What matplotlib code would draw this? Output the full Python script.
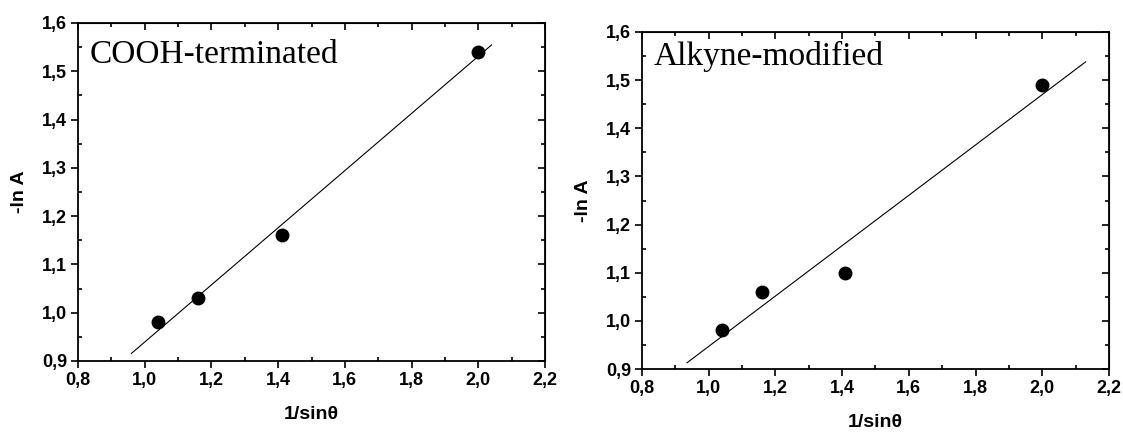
import numpy as np
import matplotlib
matplotlib.use("Agg")
import matplotlib.pyplot as plt
from matplotlib.ticker import MultipleLocator, FuncFormatter, NullFormatter

# данные
x_vals = [1.04, 1.16, 1.41, 2.00]
y_cooh = [0.98, 1.03, 1.16, 1.54]
y_alkyne = [0.98, 1.06, 1.10, 1.49]
fit_range_cooh = [0.96, 2.04]
fit_range_alkyne = [0.935, 2.13]
titles = ["COOH-terminated", "Alkyne-modified"]

plt.rcParams['font.family'] = ['Liberation Sans', 'DejaVu Sans']

fig = plt.figure(figsize=(11.23, 4.33), dpi=100)
ax1 = fig.add_axes([0.0695, 0.1663, 0.4158, 0.7806])
ax2 = fig.add_axes([0.5717, 0.1478, 0.4158, 0.7783])

comma = FuncFormatter(lambda v, p: ("%.1f" % v).replace(".", ","))

for ax, y, rng, title, ty in [(ax1, y_cooh, fit_range_cooh, titles[0], 0.882),
                              (ax2, y_alkyne, fit_range_alkyne, titles[1], 0.902)]:
    # линейная аппроксимация
    k, b = np.polyfit(x_vals, y, 1)
    xf = np.array(rng)
    ax.plot(xf, k * xf + b, color='black', lw=0.8)
    ax.plot(x_vals, y, 'o', color='black', markersize=9)
    ax.set_xlim(0.8, 2.2)
    ax.set_ylim(0.9, 1.6)
    ax.xaxis.set_major_locator(MultipleLocator(0.2))
    ax.xaxis.set_minor_locator(MultipleLocator(0.1))
    ax.yaxis.set_major_locator(MultipleLocator(0.1))
    ax.yaxis.set_minor_locator(MultipleLocator(0.05))
    ax.xaxis.set_major_formatter(comma)
    ax.yaxis.set_major_formatter(comma)
    ax.tick_params(which='major', direction='out', length=5, width=1.2,
                   labelsize=13, pad=3)
    ax.tick_params(which='minor', direction='in', length=3, width=1.2)
    for lab in ax.get_xticklabels() + ax.get_yticklabels():
        lab.set_fontweight('bold')
    for s in ax.spines.values():
        s.set_linewidth(1.3)

    # верхняя и правая оси: засечки внутрь
    top = ax.secondary_xaxis('top')
    top.xaxis.set_major_locator(MultipleLocator(0.2))
    top.xaxis.set_minor_locator(MultipleLocator(0.1))
    top.xaxis.set_major_formatter(NullFormatter())
    top.tick_params(which='major', direction='in', length=5, width=1.2)
    top.tick_params(which='minor', direction='in', length=3, width=1.2)
    right = ax.secondary_yaxis('right')
    right.yaxis.set_major_locator(MultipleLocator(0.1))
    right.yaxis.set_minor_locator(MultipleLocator(0.05))
    right.yaxis.set_major_formatter(NullFormatter())
    right.tick_params(which='major', direction='in', length=5, width=1.2)
    right.tick_params(which='minor', direction='in', length=3, width=1.2)

    ax.set_xlabel('1/sinθ', fontsize=14, fontweight='bold', labelpad=12)
    ax.set_ylabel('-ln A', fontsize=14, fontweight='bold', labelpad=10)
    ax.text(0.024, ty, title, transform=ax.transAxes, fontsize=24,
            family=['Liberation Serif', 'DejaVu Serif'])

fig.savefig('out.png', dpi=100)
